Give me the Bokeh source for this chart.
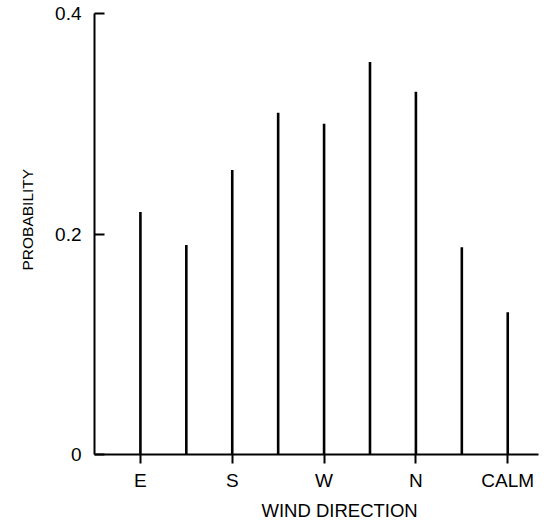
from bokeh.plotting import figure
from bokeh.models import Range1d, FixedTicker, ColumnDataSource, Title
from bokeh.embed import file_html
from bokeh.resources import INLINE

directions = ["E", "SE", "S", "SW", "W", "NW", "N", "NE", "CALM"]
probability = [0.220, 0.190, 0.258, 0.310, 0.300, 0.356, 0.329, 0.188, 0.129]
tick_labels = ["E", "S", "W", "N", "CALM"]
y_ticks = [0, 0.2, 0.4]
y_tick_labels = ["0", "0.2", "0.4"]
x_title = "WIND DIRECTION"
y_title = "PROBABILITY"

xpos = list(range(1, len(directions) + 1))
src = ColumnDataSource(dict(x=xpos, y0=[0] * len(xpos), y=probability, name=directions))

FONT = "Liberation Sans"

p = figure(width=550, height=524, output_backend="svg", toolbar_location=None,
           x_range=Range1d(0, 9.67), y_range=Range1d(0, 0.4),
           min_border_left=94, min_border_right=12, min_border_top=13, min_border_bottom=70)
p.outline_line_color = None
p.xgrid.visible = False
p.ygrid.visible = False
p.background_fill_color = "white"
p.border_fill_color = "white"

p.segment(x0="x", y0="y0", x1="x", y1="y", source=src, line_width=2.6, line_color="black")

tick_pos = [xpos[directions.index(t)] for t in tick_labels]
p.xaxis.ticker = FixedTicker(ticks=tick_pos)
p.xaxis.major_label_overrides = {pos: lab for pos, lab in zip(tick_pos, tick_labels)}
p.xaxis.minor_tick_line_color = None
p.xaxis.major_tick_in = 0
p.xaxis.major_tick_out = 9
p.xaxis.major_tick_line_width = 2
p.xaxis.axis_line_width = 2
p.xaxis.major_label_standoff = 6

p.yaxis.ticker = FixedTicker(ticks=y_ticks)
p.yaxis.major_label_overrides = {t: l for t, l in zip(y_ticks, y_tick_labels)}
p.yaxis.minor_tick_line_color = None
p.yaxis.major_tick_in = 10
p.yaxis.major_tick_out = 0
p.yaxis.major_tick_line_width = 2
p.yaxis.axis_line_width = 2
p.yaxis.major_label_standoff = 13

for ax in (p.xaxis, p.yaxis):
    ax.axis_line_color = "black"
    ax.major_tick_line_color = "black"
    ax.major_label_text_font = FONT
    ax.major_label_text_font_size = "19px"
    ax.major_label_text_color = "black"

# axis titles as side Titles, so they can sit off-centre like the reference
p.add_layout(Title(text=x_title, align="left", offset=167, standoff=8,
                   text_font=FONT, text_font_size="18.5px", text_font_style="normal",
                   text_color="black"), "below")
p.add_layout(Title(text=y_title, align="left", offset=184, standoff=33,
                   text_font=FONT, text_font_size="15.5px", text_font_style="normal",
                   text_color="black"), "left")

open("out.html", "w").write(file_html(p, INLINE))
